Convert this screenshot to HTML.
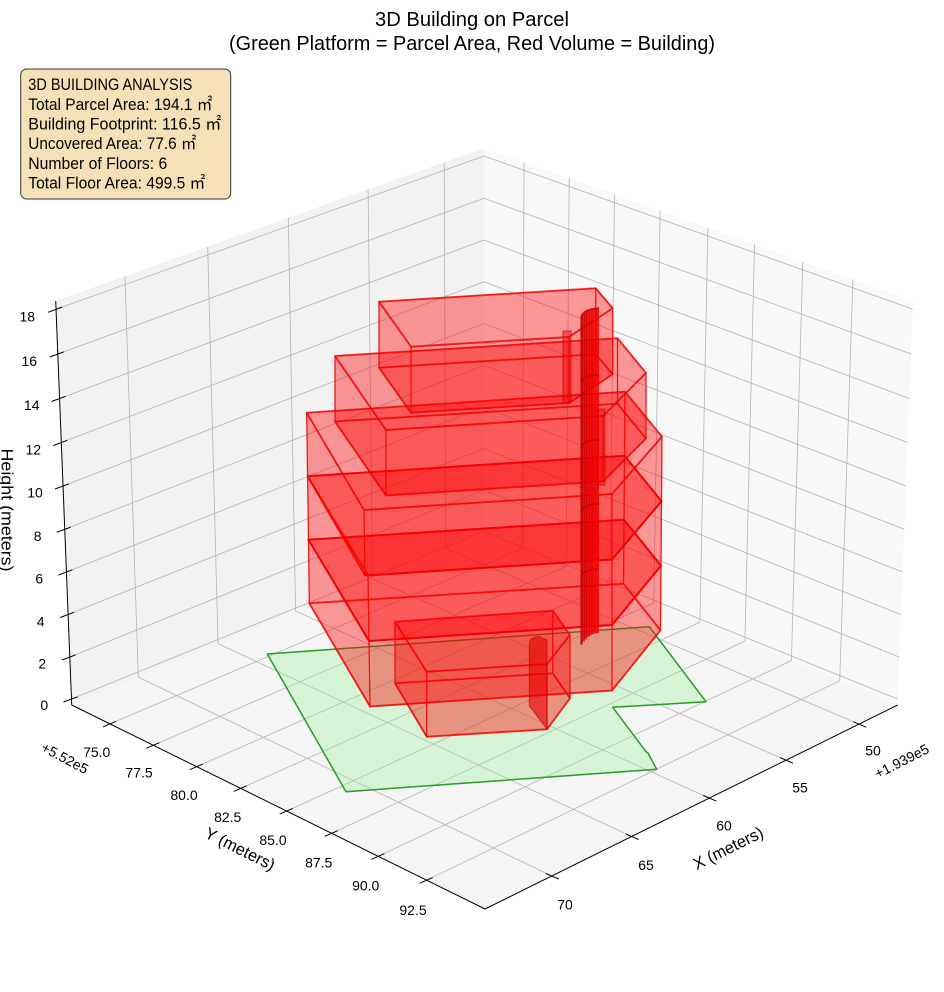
<!DOCTYPE html>
<html><head><meta charset="utf-8">
<style>html,body{margin:0;padding:0;background:#fff}svg{display:block}</style>
</head><body>
<svg width="944" height="992" viewBox="0 0 944 992" xmlns="http://www.w3.org/2000/svg" font-family="'Liberation Sans','Noto Sans CJK JP',sans-serif">
<rect width="944" height="992" fill="#fff"/>
<!-- panes -->
<polygon points="71.7,705 55.7,301 484,148 484,532" fill="#f2f2f2"/>
<polygon points="484,532 484,148 913,301 897.7,705" fill="#f8f8f8"/>
<polygon points="71.7,705 484,532 897.7,705 485,909" fill="#f5f5f5"/>
<!-- grid -->
<path fill="none" stroke="#b4b4b4" stroke-width="0.8" d="
M110,723.9L522.6,548.1 M153.3,745.3L566.2,566.4 M196.7,766.7L609.8,584.6 M240.7,788.4L653.8,603 M286.7,811.1L699.9,622.3 M331.7,833.3L744.9,641.1 M378.3,856.3L791.4,660.6 M426.7,880.2L839.7,680.8
M859.3,724.3L445.7,548.1 M786,760.2L372.4,578.8 M709.3,798.1L295.6,611.1 M631.7,836.5L218,643.6 M551.7,876L138.3,677.1
M445.7,548.1L444.2,162.2 M372.4,578.8L368.1,189.4 M295.6,611.1L288.3,217.9 M218,643.6L207.7,246.7 M138.3,677.1L124.9,276.3
M522.6,548.1L524,162.3 M566.2,566.4L569.2,178 M609.8,584.6L614.5,194.6 M653.8,603L660.1,210.8 M699.9,622.3L707.9,227.8 M744.9,641.1L754.5,244.5 M791.4,660.6L802.8,261.6 M839.7,680.8L852.9,279.5
M71.5,699L484,531.5L897.5,699
M69.8,657L484,490L899.2,657
M68.1,614.5L484,448.5L900.9,614.5
M66.4,572L484,407L902.6,572
M64.7,529.3L484,365.3L904.3,529.3
M63,486L484,323.5L906,486
M61.3,442.5L484,281.7L907.7,442.5
M59.6,398.5L484,240L909.4,398.5
M57.8,354L484,198.3L911.2,354
M56,309.3L484,156L913,309.3"/>
<!-- axes -->
<path fill="none" stroke="#000" stroke-width="1" d="M71.7,705L55.7,301 M71.7,705L485,909 M897.7,705L485,909
M48,312.3L62,307.1 M49.8,357L63.8,351.8 M51.6,401.5L65.6,396.3 M53.3,445.5L67.3,440.3 M55,489L69,483.8 M56.7,532.3L70.7,527.1 M58.4,575L72.4,569.8 M60.1,617.5L74.1,612.3 M61.8,660L75.8,654.8 M63.5,702L77.5,696.8
M103,726.9L116,721.3 M146.3,748.3L159.3,742.7 M189.7,769.7L202.7,764.1 M233.7,791.4L246.7,785.8 M279.7,814.1L292.7,808.5 M324.7,836.3L337.7,830.7 M371.3,859.3L384.3,853.7 M419.7,883.2L432.7,877.6
M853.3,721.7L866.3,727.3 M780,757.6L793,763.2 M703.3,795.5L716.3,801.1 M625.7,833.9L638.7,839.5 M545.7,873.4L558.7,879"/>
<!-- parcel -->
<polygon points="267.3,654 649.3,626.7 706,701.7 612.7,707.3 646,751.7 648,753 656.7,769.3 346,791.7" fill="#90ee90" fill-opacity="0.3" stroke="#2a9a2a" stroke-width="1.5" stroke-linejoin="round"/>
<!-- building -->
<g fill="#ff0000" fill-opacity="0.22" stroke="#f00000" stroke-opacity="0.65" stroke-linejoin="round">
<g stroke-width="1.2">
<polygon points="395,621.7 552.7,610.7 552.7,673.3 395,683.3"/>
<polygon points="552.7,610.7 570,635 570,698.3 552.7,673.3"/>
<polygon points="570,635 547,664 547,729.3 570,698.3"/>
<polygon points="547,664 426.7,671.7 426.7,736.7 547,729.3"/>
<polygon points="426.7,671.7 395,621.7 395,683.3 426.7,736.7"/>
<polygon points="308.5,539.7 624,519.7 623.5,583.7 309.3,603.2"/>
<polygon points="624,519.7 661,565.7 660.5,630.2 623.5,583.7"/>
<polygon points="661,565.7 612,625 612,690.5 660.5,630.2"/>
<polygon points="612,625 369,641 370,706.5 612,690.5"/>
<polygon points="369,641 308.5,539.7 309.3,603.2 370,706.5"/>
<polygon points="307.6,476.2 624.5,455.7 624,519.7 308.5,539.7"/>
<polygon points="624.5,455.7 661.5,501.2 661,565.7 624,519.7"/>
<polygon points="661.5,501.2 612,559.5 612,625 661,565.7"/>
<polygon points="612,559.5 368,575.5 369,641 612,625"/>
<polygon points="368,575.5 307.6,476.2 308.5,539.7 369,641"/>
<polygon points="306.7,412.7 625,391.7 624.5,455.7 307.6,476.2"/>
<polygon points="625,391.7 662,436.7 661.5,501.2 624.5,455.7"/>
<polygon points="662,436.7 612,494 612,559.5 661.5,501.2"/>
<polygon points="612,494 364,510 365,575.5 612,559.5"/>
<polygon points="364,510 306.7,412.7 307.6,476.2 365,575.5"/>
<polygon points="335,356 617.5,338.3 617.5,403.8 335,421.5"/>
<polygon points="617.5,338.3 646,373 646,438.5 617.5,403.8"/>
<polygon points="646,373 603,416 603,481.5 646,438.5"/>
<polygon points="603,416 386,430 386,495.5 603,481.5"/>
<polygon points="386,430 335,356 335,421.5 386,495.5"/>
<polygon points="379,301.7 595.7,288.3 595.7,354.3 379,367.7"/>
<polygon points="595.7,288.3 612.7,308.3 612.7,374.3 595.7,354.3"/>
<polygon points="612.7,308.3 569,337 569,403 612.7,374.3"/>
<polygon points="569,337 411,346.7 411,412.7 569,403"/>
<polygon points="411,346.7 379,301.7 379,367.7 411,412.7"/>
</g>
<g stroke-width="2">
<polygon points="395,683.3 552.7,673.3 570,698.3 547,729.3 426.7,736.7"/>
<polygon points="395,621.7 552.7,610.7 570,635 547,664 426.7,671.7"/>
<polygon points="309.3,603.2 623.5,583.7 660.5,630.2 612,690.5 370,706.5"/>
<polygon points="308.5,539.7 624,519.7 661,565.7 612,625 369,641"/>
<polygon points="308.5,539.7 624,519.7 661,565.7 612,625 369,641"/>
<polygon points="307.6,476.2 624.5,455.7 661.5,501.2 612,559.5 368,575.5"/>
<polygon points="307.6,476.2 624.5,455.7 661.5,501.2 612,559.5 365,575.5"/>
<polygon points="306.7,412.7 625,391.7 662,436.7 612,494 364,510"/>
<polygon points="335,421.5 617.5,403.8 646,438.5 603,481.5 386,495.5"/>
<polygon points="335,356 617.5,338.3 646,373 603,416 386,430"/>
<polygon points="379,367.7 595.7,354.3 612.7,374.3 569,403 411,412.7"/>
<polygon points="379,301.7 595.7,288.3 612.7,308.3 569,337 411,346.7"/>
</g>
</g>
<!-- thin strips -->
<rect x="563" y="331" width="8" height="72" fill="#f00000" fill-opacity="0.45" stroke="#d00000" stroke-width="1" stroke-opacity="0.7"/>
<rect x="597" y="409" width="8" height="76" fill="#f00000" fill-opacity="0.45" stroke="#d00000" stroke-width="1" stroke-opacity="0.7"/>
<!-- curved columns -->
<path d="M581,317 Q583,309 599,308 L599,633 Q588,633 581,645 Z" fill="#f00000" fill-opacity="0.85"/>
<path d="M582.5,314V644 M584.5,312V642 M586.5,311V640 M589,310V637 M592,309V634" stroke="#b00000" stroke-width="0.8" stroke-opacity="0.55" fill="none"/>
<path d="M581,317 Q583,309 599,308 M581,383 Q583,375 599,375 M581,448 Q583,440 599,440 M581,512 Q583,504 599,504 M581,577 Q583,569 599,569" stroke="#c00000" stroke-width="1.5" fill="none" stroke-opacity="0.8"/>
<path d="M581,317 V645" stroke="#a00000" stroke-width="1.2" stroke-opacity="0.8"/>
<path d="M529.3,642 Q531,637 539,636.5 L547,640 L547,729 L529.3,706 Z" fill="#e80000" fill-opacity="0.6" stroke="#c00000" stroke-width="1" stroke-opacity="0.6"/>
<!-- tick labels -->
<g font-size="14" fill="#000" text-anchor="middle">
<text x="27.3" y="321.7">18</text>
<text x="29.3" y="366">16</text>
<text x="31.7" y="410">14</text>
<text x="33.3" y="454.3">12</text>
<text x="35" y="497.7">10</text>
<text x="37.7" y="541">8</text>
<text x="39.3" y="583.7">6</text>
<text x="40.7" y="626.7">4</text>
<text x="42.3" y="668.3">2</text>
<text x="44.3" y="710">0</text>
<text x="96.7" y="757">75.0</text>
<text x="139" y="777.7">77.5</text>
<text x="184" y="800">80.0</text>
<text x="227.7" y="822">82.5</text>
<text x="273" y="845">85.0</text>
<text x="318.7" y="867.7">87.5</text>
<text x="365.7" y="890.7">90.0</text>
<text x="413" y="915">92.5</text>
<text x="873" y="755.7">50</text>
<text x="800" y="792.3">55</text>
<text x="724" y="830.7">60</text>
<text x="646" y="870">65</text>
<text x="565" y="909.3">70</text>
<text transform="translate(65,758) rotate(28)" y="5">+5.52e5</text>
<text transform="translate(901.7,761) rotate(-27)" y="5">+1.939e5</text>
</g>
<!-- axis labels -->
<g font-size="16.67" fill="#000" text-anchor="middle">
<text transform="translate(1.5,510) rotate(90)" textLength="123" lengthAdjust="spacingAndGlyphs">Height (meters)</text>
<text transform="translate(240,849) rotate(26.5)" y="5.5" textLength="76" lengthAdjust="spacingAndGlyphs">Y (meters)</text>
<text transform="translate(728.3,848.3) rotate(-26.5)" y="5.5" textLength="76" lengthAdjust="spacingAndGlyphs">X (meters)</text>
</g>
<!-- title -->
<g font-size="20" fill="#000" text-anchor="middle">
<text x="472" y="26" textLength="194" lengthAdjust="spacingAndGlyphs">3D Building on Parcel</text>
<text x="472" y="50" textLength="486" lengthAdjust="spacingAndGlyphs">(Green Platform = Parcel Area, Red Volume = Building)</text>
</g>
<!-- info box -->
<rect x="20.7" y="69" width="210" height="130" rx="6" ry="6" fill="#f6e0b8" stroke="#333" stroke-width="1"/>
<g font-size="16.5" fill="#000">
<text x="28.3" y="90" textLength="164" lengthAdjust="spacingAndGlyphs">3D BUILDING ANALYSIS</text>
<text x="28.3" y="110" textLength="184" lengthAdjust="spacingAndGlyphs">Total Parcel Area: 194.1 ㎡</text>
<text x="28.3" y="129.5" textLength="193" lengthAdjust="spacingAndGlyphs">Building Footprint: 116.5 ㎡</text>
<text x="28.3" y="149" textLength="168" lengthAdjust="spacingAndGlyphs">Uncovered Area: 77.6 ㎡</text>
<text x="28.3" y="169" textLength="139" lengthAdjust="spacingAndGlyphs">Number of Floors: 6</text>
<text x="28.3" y="188.5" textLength="177" lengthAdjust="spacingAndGlyphs">Total Floor Area: 499.5 ㎡</text>
</g>
</svg>
</body></html>
